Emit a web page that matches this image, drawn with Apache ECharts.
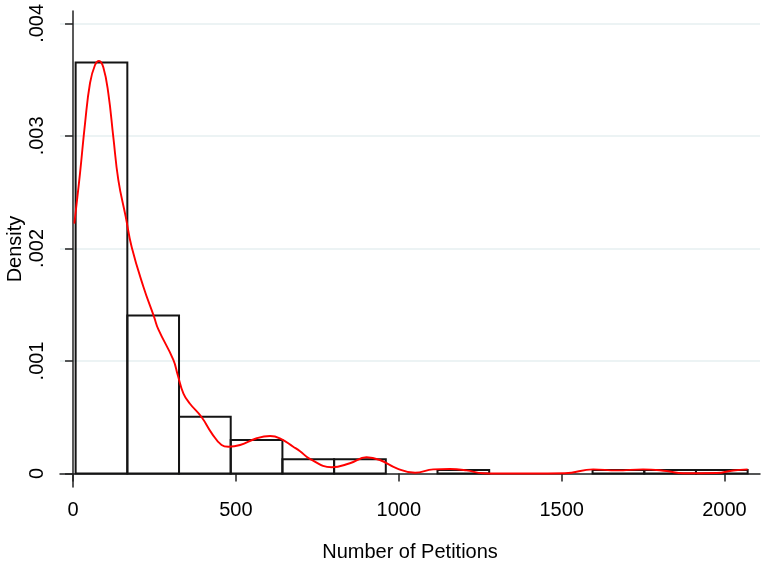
<!DOCTYPE html>
<html>
<head>
<meta charset="utf-8">
<script src="https://cdn.jsdelivr.net/npm/echarts@6/dist/echarts.min.js"></script>
<style>
  html, body { margin: 0; padding: 0; background: #ffffff; }
  #chart { width: 763px; height: 566px; }
</style>
</head>
<body>
<div id="chart"></div>
<script>
// Histogram bins: lower/upper edges and density of each bin
const binEdges = [8, 166.7, 325.4, 484.1, 642.8, 801.5, 960.2, 1118.9, 1277.6, 1436.3, 1595, 1753.7, 1912.4, 2071.1];
const binDensity = [0.003652, 0.001405, 0.000505, 0.000298, 0.000126, 0.000126, 0, 0.0000315, 0, 0, 0.0000315, 0.0000315, 0.0000315];

// Kernel density estimate (x, density)
const kdeX = [4, 21.5, 36.8, 52.2, 67.5, 79.8, 93, 108.3, 123.7, 139, 161.8, 180.2, 216, 249, 262, 308, 321, 339, 359, 395, 426, 456, 477, 513, 564, 605, 635, 676, 697, 727, 794, 850, 901, 942, 994, 1050, 1106, 1157, 1208, 1259, 1300, 1400, 1510, 1597, 1669, 1750, 1822, 1873, 1976, 2027, 2071];
const kdeY = [0.00222, 0.00267, 0.00311, 0.00347, 0.00363, 0.003666, 0.00361, 0.00338, 0.00299, 0.00261, 0.00228, 0.00201, 0.00166, 0.00139, 0.00128, 0.00101, 0.00088, 0.00071, 0.00062, 0.00050, 0.000357, 0.000253, 0.000238, 0.000253, 0.000313, 0.000333, 0.000313, 0.000238, 0.000198, 0.00013, 0.000055, 0.000091, 0.000144, 0.00012, 0.000046, 0.000007, 0.000037, 0.00004, 0.000028, 0.000002, 0, 0, 0.000002, 0.000037, 0.000028, 0.000037, 0.000022, 0.000002, 0.000004, 0.000027, 0.000037];

// Axis ticks
const xTicks = [0, 500, 1000, 1500, 2000];
const yTicks = [0, 0.001, 0.002, 0.003, 0.004];
const yTickLabels = ['0', '.001', '.002', '.003', '.004'];

const bins = binDensity.map((d, i) => [binEdges[i], binEdges[i + 1], d]);
const kde = kdeX.map((x, i) => [x, kdeY[i]]);

const font = '"Liberation Sans", Arial, sans-serif';
const chart = echarts.init(document.getElementById('chart'), null, { renderer: 'canvas' });

chart.setOption({
  backgroundColor: '#ffffff',
  animation: false,
  grid: { left: 60, right: 3, top: 11, bottom: 79, containLabel: false, outerBoundsMode: 'none' },
  xAxis: {
    type: 'value',
    min: -40,
    max: 2109,
    name: 'Number of Petitions',
    nameLocation: 'middle',
    nameGap: 55,
    nameMoveOverlap: false,
    nameTextStyle: { fontFamily: font, fontSize: 20, color: '#000' },
    axisLine: { show: true, lineStyle: { color: '#222', width: 1.5 } },
    axisTick: { show: true, length: 8, customValues: xTicks, lineStyle: { color: '#222', width: 1.5 } },
    axisLabel: { customValues: xTicks, margin: 13, fontFamily: font, fontSize: 20, color: '#000', formatter: v => String(v) },
    splitLine: { show: false }
  },
  yAxis: {
    type: 'value',
    min: -0.00012,
    max: 0.00411,
    name: 'Density',
    nameLocation: 'middle',
    nameGap: 35,
    nameMoveOverlap: false,
    nameTextStyle: { fontFamily: font, fontSize: 20, color: '#000' },
    axisLine: { show: true, lineStyle: { color: '#222', width: 1.5 } },
    axisTick: { show: true, length: 8, customValues: yTicks, lineStyle: { color: '#222', width: 1.5 } },
    axisLabel: {
      customValues: yTicks,
      rotate: 90,
      margin: 13,
      fontFamily: font,
      fontSize: 20,
      color: '#000',
      formatter: v => yTickLabels[yTicks.findIndex(t => Math.abs(t - v) < 1e-9)]
    },
    splitLine: { show: true, lineStyle: { color: '#e6eff1', width: 1.5 } }
  },
  series: [
    {
      type: 'custom',
      data: bins,
      z: 2,
      renderItem(params, api) {
        const d = api.value(2);
        if (!d) return null;
        const p0 = api.coord([api.value(0), d]);
        const p1 = api.coord([api.value(1), 0]);
        return {
          type: 'rect',
          shape: { x: p0[0], y: p0[1], width: p1[0] - p0[0], height: p1[1] - p0[1] },
          style: { fill: 'rgba(255,255,255,0)', stroke: '#141414', lineWidth: 2 }
        };
      }
    },
    {
      type: 'line',
      data: kde,
      z: 3,
      smooth: 0.45,
      showSymbol: false,
      lineStyle: { color: '#ff0000', width: 1.9 }
    }
  ]
});
</script>
</body>
</html>
